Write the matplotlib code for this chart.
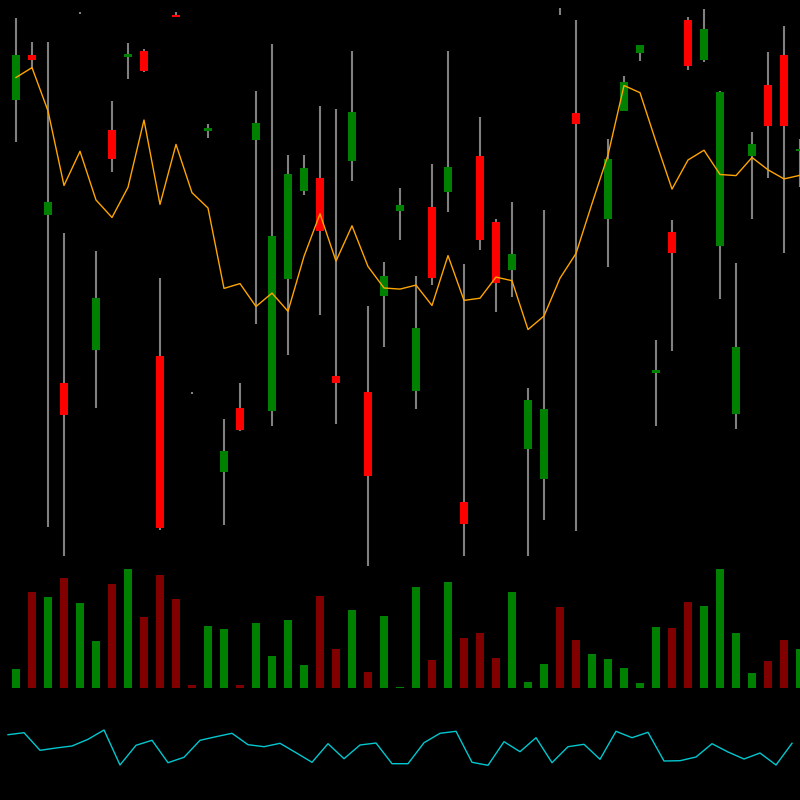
import matplotlib
matplotlib.use("Agg")
from matplotlib import pyplot as plt
import numpy as np

# candle data, one entry per bar
opens = [500, 545, 385, 217, 587, 250, 470, 543.5, 549.5, 244.5,
         584.7, 207.5, 469.5, 128.5, 192, 460.4, 188.7, 321, 409, 422.5,
         224, 439.3, 208, 303.6, 389, 209, 393, 408.4, 97.8, 444,
         377.8, 330.2, 151.3, 121, 589.2, 486.9, 589, 381.5, 489.5, 546.9,
         227.3, 368.4, 579.6, 539.6, 353.8, 186.5, 443.6, 514.9, 545.1, 449]
highs = [582, 558, 558, 367, 588, 349, 499, 557, 551, 322.5,
         588, 208, 475.6, 180.7, 217.5, 508.7, 556, 445, 445, 494,
         491, 549, 293.8, 337.8, 412, 323.6, 436.4, 549, 335.6, 483.3,
         381, 398.5, 212.4, 389.8, 592, 579.6, 589.5, 461.5, 524, 555,
         260.4, 380.4, 583.3, 590.9, 509.1, 337.5, 467.6, 548.4, 574.5, 460.7]
lows = [458, 531, 73, 44, 586, 192, 428, 521.5, 528, 70,
        583, 206.5, 461.8, 75.3, 169, 276.4, 174.5, 244.7, 404.7, 285,
        176.4, 419.3, 33.8, 253.5, 360, 191, 315.3, 387.6, 43.6, 349.8,
        288.4, 303.3, 44.4, 80, 585.5, 69, 588.8, 332.7, 489.5, 539.3,
        174.5, 249.1, 530.5, 538.2, 301.1, 170.9, 380.7, 422.2, 347.3, 413.5]
closes = [545, 540, 398, 185, 587, 302, 441.5, 546.5, 529, 72,
          583.3, 207, 472, 148.7, 170, 477.5, 364, 425.8, 432, 368.7,
          216.7, 488.4, 123.6, 323.6, 395, 272, 321.8, 433.5, 76, 360.4,
          317.5, 345.8, 199.6, 191, 589, 476, 589.3, 441.5, 517.8, 555,
          230.2, 347.3, 534.5, 570.9, 507.6, 252.7, 456, 473.8, 474.5, 451]

# moving average line
ma = [522.5, 532.4, 489.1, 414.5, 448.7, 400, 382.5, 412.7, 480, 395.6,
      455.6, 407.3, 392, 311.6, 316.4, 293.5, 306.9, 288.7, 343.6, 386.2,
      338.9, 374.2, 333.5, 312, 310.9, 314.9, 294.5, 344.4, 299.6, 301.8,
      322.9, 319.3, 270.5, 284, 321.8, 346.5, 396.4, 445, 514.5, 507.3,
      458.2, 410.9, 440, 449.8, 425.5, 424.4, 442.5, 430.2, 421.1, 424.7]

volume = [18.7, 95.7, 90.7, 109.7, 84.7, 47.3, 104, 118.7, 71.3, 112.7,
          88.7, 2.7, 62.3, 59.3, 2.7, 64.7, 32.3, 68.3, 22.7, 92,
          39, 78, 16.3, 72, 1, 101, 28, 105.7, 49.7, 55,
          29.7, 95.7, 6.3, 23.7, 81, 47.7, 34.3, 28.7, 19.7, 4.7,
          60.7, 59.7, 85.7, 82.3, 119.3, 54.7, 15.3, 26.7, 48.3, 38.7]

# lower indicator
osc = [65.3, 67.3, 49.7, 52, 54, 60.7, 70, 35, 54.7, 59.7,
       37.3, 42.7, 59.7, 63.3, 66.7, 55.3, 53.3, 56.7, 47.3, 37.7,
       56.3, 41.3, 55, 57, 36.3, 36.3, 57.3, 66.7, 68.7, 37.7,
       34.7, 58.3, 48.3, 62.3, 37.3, 53.3, 55.7, 40.7, 68.7, 62.3,
       67.7, 39, 39.3, 43, 56.3, 48, 41, 47, 35, 56.7]

x = np.arange(1, len(opens) + 1)
o = np.array(opens)
c = np.array(closes)
up = c >= o

fig = plt.figure(figsize=(8, 8), dpi=100, facecolor='black')

# price panel
ax = fig.add_axes([0, 230 / 800, 1, 570 / 800])
ax.set_facecolor('black')
ax.vlines(x, lows, highs, color='#808080', linewidth=1.5, zorder=1)
ax.bar(x, c - o, bottom=o, width=0.5,
       color=np.where(up, '#008000', '#ff0000'), linewidth=0, zorder=2)
ax.plot(x, ma, color='orange', linewidth=1, zorder=3)
ax.set_xlim(0, 50)
ax.set_ylim(30, 600)
ax.axis('off')

# volume panel
axv = fig.add_axes([0, 0.14, 1, 128 / 800])
axv.set_facecolor('black')
axv.bar(x, volume, width=0.5, color=np.where(up, '#008000', '#800000'), linewidth=0)
axv.set_xlim(0, 50)
axv.set_ylim(0, 128)
axv.axis('off')

# oscillator panel
axo = fig.add_axes([0, 0, 1, 0.125])
axo.set_facecolor('black')
axo.plot(x - 0.5, osc, color='#00c8d0', linewidth=1)
axo.set_xlim(0, 50)
axo.set_ylim(0, 100)
axo.axis('off')

plt.savefig('out.png', facecolor='black')
